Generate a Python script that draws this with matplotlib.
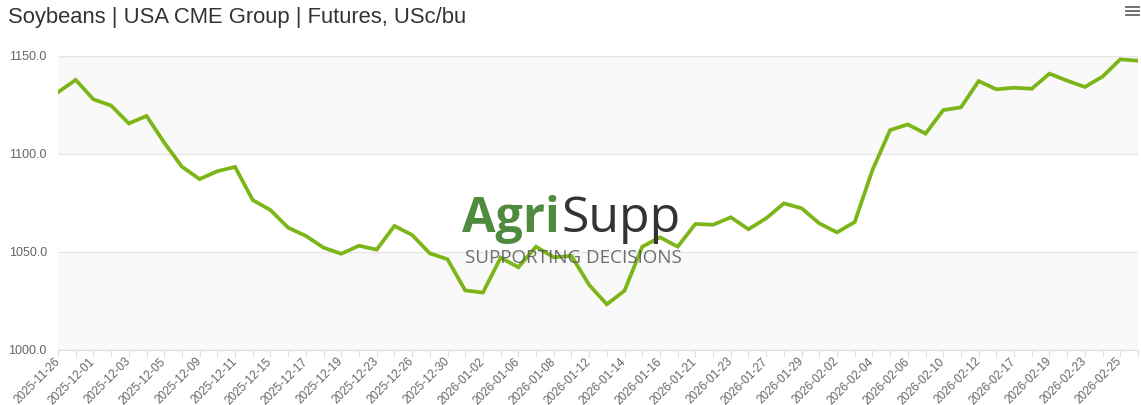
import numpy as np
import matplotlib.pyplot as plt

# trading days shown on the chart
dates = ['2025-11-26', '2025-11-28', '2025-12-01', '2025-12-02', '2025-12-03', '2025-12-04',
         '2025-12-05', '2025-12-08', '2025-12-09', '2025-12-10', '2025-12-11', '2025-12-12',
         '2025-12-15', '2025-12-16', '2025-12-17', '2025-12-18', '2025-12-19', '2025-12-22',
         '2025-12-23', '2025-12-24', '2025-12-26', '2025-12-29', '2025-12-30', '2025-12-31',
         '2026-01-02', '2026-01-05', '2026-01-06', '2026-01-07', '2026-01-08', '2026-01-09',
         '2026-01-12', '2026-01-13', '2026-01-14', '2026-01-15', '2026-01-16', '2026-01-20',
         '2026-01-21', '2026-01-22', '2026-01-23', '2026-01-26', '2026-01-27', '2026-01-28',
         '2026-01-29', '2026-01-30', '2026-02-02', '2026-02-03', '2026-02-04', '2026-02-05',
         '2026-02-06', '2026-02-09', '2026-02-10', '2026-02-11', '2026-02-12', '2026-02-13',
         '2026-02-17', '2026-02-18', '2026-02-19', '2026-02-20', '2026-02-23', '2026-02-24',
         '2026-02-25', '2026-02-26']

prices = [1131.5, 1137.8, 1127.9, 1124.7, 1115.6, 1119.4, 1105.8, 1093.5, 1087.2, 1091.2,
          1093.4, 1076.5, 1071.4, 1062.4, 1058.2, 1052.2, 1049.1, 1053.2, 1051.2, 1063.3,
          1058.7, 1049.3, 1046.3, 1030.4, 1029.3, 1047.1, 1042.2, 1052.7, 1047.3, 1048.0,
          1033.2, 1023.3, 1030.3, 1052.7, 1057.5, 1052.7, 1064.3, 1063.9, 1067.7, 1061.6,
          1067.2, 1074.8, 1072.3, 1064.6, 1060.0, 1065.3, 1091.8, 1112.2, 1115.1, 1110.4,
          1122.4, 1123.8, 1137.2, 1133.0, 1133.8, 1133.3, 1141.0, 1137.4, 1134.2, 1139.5,
          1148.3, 1147.6]

yticks = [1000, 1050, 1100, 1150]

plt.rcParams['font.family'] = ['Liberation Sans', 'DejaVu Sans']

fig = plt.figure(figsize=(11.41, 4.05), dpi=100)
ax = fig.add_axes([58/1141, 55/405, 1080/1141, 294/405])

x = np.arange(len(dates))

# alternating bands + grid
for i in range(len(yticks) - 1):
    if i % 2 == 0:
        ax.axhspan(yticks[i], yticks[i+1], color='#f9f9f9', zorder=0, lw=0)
for v in yticks:
    ax.axhline(v, color='#e6e6e6', lw=1, zorder=1)

ax.plot(x, prices, color='#7cb518', lw=2.7, solid_joinstyle='miter', zorder=3)

ax.set_xlim(0, len(dates) - 1)
ax.set_ylim(yticks[0], yticks[-1])
ax.set_yticks(yticks)
ax.set_yticklabels(['%.1f' % v for v in yticks], color='#666666', fontsize=9)
ax.tick_params(axis='y', length=0, pad=8)

ax.set_xticks(x)
ax.set_xticklabels([d if i % 2 == 0 else '' for i, d in enumerate(dates)],
                   rotation=45, ha='right', va='center', rotation_mode='anchor',
                   color='#666666', fontsize=8.5)
ax.tick_params(axis='x', length=5, color='#dddddd', pad=2)

for s in ['top', 'right', 'left']:
    ax.spines[s].set_visible(False)
ax.spines['bottom'].set_color('#dddddd')

# title
fig.text(8/1141, 1 - 18/405, 'Soybeans | USA CME Group | Futures, USc/bu',
         fontsize=15.8, color='#333333', va='center', ha='left')

# menu icon
for dy in (7, 11, 15):
    fig.add_artist(plt.Line2D([1126/1141, 1139/1141], [1 - dy/405, 1 - dy/405],
                              color='#666666', lw=1.3))

# watermark
fig.text(560/1141, 1 - 219/405, 'Agri', fontsize=35, color='#4e8b3e', fontweight='bold',
         family=['Open Sans', 'DejaVu Sans'], va='center', ha='right', zorder=5)
fig.text(561/1141, 1 - 219/405, 'Supp', fontsize=36, color='#333333',
         family=['Open Sans', 'DejaVu Sans'], va='center', ha='left', zorder=5)
fig.text(573/1141, 1 - 258/405, 'SUPPORTING DECISIONS', fontsize=13.5, color='#555555',
         family=['Open Sans', 'DejaVu Sans'], va='center', ha='center', alpha=0.85, zorder=5)

fig.savefig('out.png', dpi=100)
